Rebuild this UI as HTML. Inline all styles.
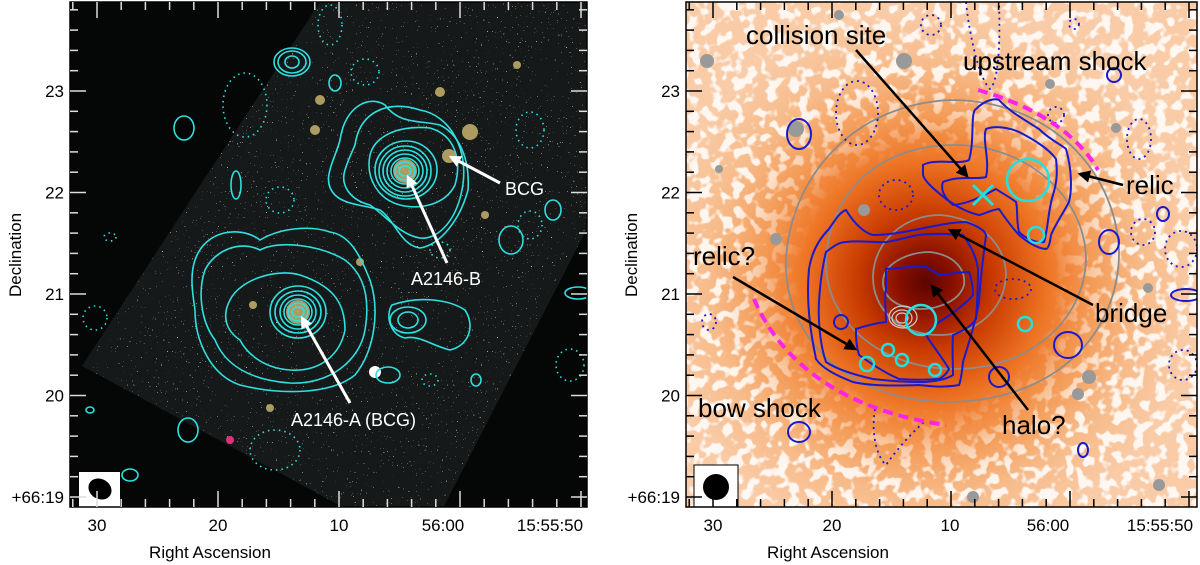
<!DOCTYPE html>
<html><head><meta charset="utf-8"><style>
html,body{margin:0;padding:0;background:#fff;width:1200px;height:565px;overflow:hidden}
svg{display:block;font-family:"Liberation Sans",sans-serif}
</style></head><body>
<svg width="1200" height="565" viewBox="0 0 1200 565">
<defs>
<filter id="mott" x="0" y="0" width="100%" height="100%">
<feTurbulence type="fractalNoise" baseFrequency="0.09" numOctaves="2" seed="4"/>
<feColorMatrix type="matrix" values="0 0 0 0 1  0 0 0 0 1  0 0 0 0 1  -9 0 0 0 4.5"/>
</filter>
<filter id="stars" x="0" y="0" width="100%" height="100%">
<feTurbulence type="fractalNoise" baseFrequency="0.8" numOctaves="1" seed="7" result="n"/>
<feColorMatrix in="n" type="matrix" values="0 0 0 0 0.9  0 0 0 0 0.75  0 0 0 0 0.45  40 0 0 0 -29" result="s"/>
<feComposite in="s" in2="SourceGraphic" operator="in"/>
</filter>
<radialGradient id="xg" cx="926" cy="282" r="270" gradientUnits="userSpaceOnUse">
<stop offset="0" stop-color="#5a0500"/>
<stop offset="0.1" stop-color="#880f00"/>
<stop offset="0.25" stop-color="#c83a00"/>
<stop offset="0.45" stop-color="#ee7424"/>
<stop offset="0.62" stop-color="#f49c58"/>
<stop offset="0.8" stop-color="#f7bb8a"/>
<stop offset="1" stop-color="#f9cba6"/>
</radialGradient>
<radialGradient id="mg" cx="926" cy="282" r="300" gradientUnits="userSpaceOnUse">
<stop offset="0.42" stop-color="#000"/>
<stop offset="0.68" stop-color="#fff"/>
</radialGradient>
<mask id="mm"><rect x="686" y="2" width="511" height="505" fill="url(#mg)"/></mask>
<clipPath id="cl"><rect x="70" y="2" width="517" height="505"/></clipPath>
<clipPath id="cr"><rect x="686" y="2" width="511" height="505"/></clipPath>
<marker id="ah" viewBox="0 0 10 10" refX="8" refY="5" markerWidth="5" markerHeight="5" orient="auto"><path d="M0,0L10,5L0,10z" fill="#000"/></marker>
<marker id="aw" viewBox="0 0 10 10" refX="8" refY="5" markerWidth="4" markerHeight="4" orient="auto"><path d="M0,0L10,5L0,10z" fill="#fff"/></marker>
</defs>

<!-- LEFT PANEL -->
<g clip-path="url(#cl)">
<rect x="70" y="2" width="517" height="505" fill="#050707"/>
<polygon points="82,366 320,2 590,2 590,223 442,510 348,510" fill="#15191a"/>
<polygon points="82,366 320,2 590,2 590,223 442,510 348,510" fill="#fff" filter="url(#stars)"/>
<g fill="#e0c878" opacity="0.75">
<circle cx="405" cy="171" r="12"/><circle cx="449" cy="156" r="7"/><circle cx="298" cy="312" r="12"/>
<circle cx="470" cy="132" r="8"/><circle cx="320" cy="100" r="5"/><circle cx="315" cy="130" r="5"/><circle cx="440" cy="92" r="5"/><circle cx="517" cy="65" r="4"/><circle cx="253" cy="305" r="4"/><circle cx="270" cy="408" r="4"/><circle cx="360" cy="262" r="4"/><circle cx="485" cy="215" r="4"/>
</g>
<circle cx="375" cy="372" r="6" fill="#fff"/>
<circle cx="230" cy="440" r="4" fill="#e0307a"/>
<g fill="none" stroke="#2fe0e0" stroke-width="1.6">
<ellipse cx="405" cy="171" rx="6" ry="5"/><ellipse cx="405" cy="171" rx="10" ry="9"/><ellipse cx="405" cy="171" rx="14" ry="13"/><ellipse cx="405" cy="171" rx="18" ry="17"/><ellipse cx="405" cy="171" rx="22" ry="21"/><ellipse cx="405" cy="171" rx="26" ry="25"/><ellipse cx="406" cy="170" rx="31" ry="29"/>
<path d="M370,155 C375,135 400,125 430,128 C455,135 462,160 455,185 C445,205 420,210 400,205 C380,200 365,180 370,155Z"/>
<path d="M355,145 C360,110 390,100 420,110 C450,115 470,150 462,190 C455,225 435,240 420,238 C400,235 385,215 370,205 C350,200 340,185 345,170 C348,160 352,152 355,145Z"/>
<path d="M340,140 C345,105 370,95 385,105 C400,125 420,120 440,125 C460,135 470,160 468,190 C460,220 440,245 420,248 C400,245 395,220 380,210 C365,205 345,205 335,195 C320,180 335,160 340,140Z"/>
<ellipse cx="298" cy="312" rx="6" ry="5"/><ellipse cx="298" cy="312" rx="10" ry="9"/><ellipse cx="298" cy="312" rx="14" ry="13"/><ellipse cx="298" cy="312" rx="18" ry="17"/><ellipse cx="298" cy="312" rx="23" ry="21"/><ellipse cx="298" cy="312" rx="28" ry="26"/>
<path d="M230,300 C240,280 275,268 300,275 C330,285 345,300 345,330 C340,355 320,372 290,370 C260,368 245,350 240,340 C225,330 222,315 230,300Z"/>
<path d="M205,270 C215,250 240,240 260,250 C280,240 320,245 345,260 C365,275 370,300 365,330 C360,360 330,385 290,383 C250,380 225,365 215,340 C200,320 198,290 205,270Z"/>
<path d="M195,260 C205,230 240,225 260,240 C280,228 310,225 330,232 C350,235 360,255 370,280 C380,310 375,350 355,375 C330,395 280,395 240,385 C210,375 195,340 195,310 C192,290 190,275 195,260Z"/>
<ellipse cx="408" cy="320" rx="10" ry="8"/><ellipse cx="408" cy="320" rx="18" ry="13"/>
<path d="M392,305 C420,295 450,300 465,310 C475,325 470,345 450,350 C430,345 420,335 405,338 C390,335 385,315 392,305Z"/>
<ellipse cx="292" cy="62" rx="7" ry="6"/><ellipse cx="292" cy="62" rx="14" ry="11"/><ellipse cx="292" cy="62" rx="18" ry="14"/>
<ellipse cx="184" cy="128" rx="10" ry="12"/>
<ellipse cx="335" cy="83" rx="6" ry="8"/>
<ellipse cx="553" cy="210" rx="8" ry="10"/>
<ellipse cx="511" cy="240" rx="12" ry="14"/>
<ellipse cx="130" cy="475" rx="8" ry="6"/><ellipse cx="90" cy="410" rx="4" ry="3"/>
<ellipse cx="578" cy="293" rx="13" ry="6"/><ellipse cx="188" cy="430" rx="10" ry="12"/>
<ellipse cx="388" cy="375" rx="12" ry="8"/><ellipse cx="476" cy="380" rx="5" ry="6"/>
<ellipse cx="236" cy="185" rx="5" ry="14"/>
</g>
<g fill="none" stroke="#2fe0e0" stroke-width="1.6" stroke-dasharray="1.5,4">
<ellipse cx="245" cy="105" rx="22" ry="32"/><ellipse cx="280" cy="200" rx="14" ry="13"/><ellipse cx="365" cy="72" rx="14" ry="13"/><ellipse cx="530" cy="130" rx="14" ry="18"/><ellipse cx="275" cy="450" rx="25" ry="20"/><ellipse cx="440" cy="250" rx="10" ry="8"/><ellipse cx="530" cy="225" rx="12" ry="14"/><ellipse cx="95" cy="318" rx="12" ry="12"/><ellipse cx="110" cy="237" rx="6" ry="4"/><ellipse cx="570" cy="365" rx="14" ry="16"/><ellipse cx="430" cy="380" rx="8" ry="6"/><ellipse cx="330" cy="25" rx="12" ry="20"/>
</g>
</g>
<g stroke="#fff" stroke-width="3" fill="none">
<line x1="500" y1="183" x2="451" y2="157" marker-end="url(#aw)"/>
<line x1="447" y1="263" x2="408" y2="177" marker-end="url(#aw)"/>
<line x1="350" y1="403" x2="302" y2="318" marker-end="url(#aw)"/>
</g>
<g fill="#fff" font-size="18">
<text x="505" y="195">BCG</text>
<text x="411" y="285">A2146-B</text>
<text x="291" y="426">A2146-A (BCG)</text>
</g>
<g><rect x="79" y="472" width="41" height="36" fill="#fff"/><ellipse cx="100" cy="489" rx="12" ry="10" transform="rotate(30 100 489)" fill="#000"/></g>
<rect x="70" y="2" width="517" height="505" fill="none" stroke="#000" stroke-width="1.5"/>
<g id="ticksL" stroke="#ddd" stroke-width="1.5"></g>

<!-- RIGHT PANEL -->
<g clip-path="url(#cr)">
<rect x="686" y="2" width="511" height="505" fill="url(#xg)"/>
<g mask="url(#mm)"><rect x="686" y="2" width="511" height="505" fill="#fff" filter="url(#mott)" opacity="0.85"/></g>
<g fill="#999"><circle cx="707" cy="61" r="7"/><circle cx="904" cy="61" r="8"/><circle cx="796" cy="129" r="8"/><circle cx="839" cy="15" r="5"/><circle cx="1050" cy="84" r="5"/><circle cx="1116" cy="128" r="5"/><circle cx="864" cy="210" r="6"/><circle cx="776" cy="239" r="6"/><circle cx="1148" cy="288" r="5"/><circle cx="1089" cy="377" r="7"/><circle cx="1078" cy="394" r="6"/><circle cx="973" cy="497" r="6"/><circle cx="1159" cy="485" r="6"/><circle cx="719" cy="169" r="4"/></g>
<g fill="none" stroke="#8c8c8c" stroke-width="1.8">
<path d="M786,260 C790,180 850,105 950,100 C1050,100 1115,170 1119,250 C1120,330 1060,400 950,402 C850,402 784,340 786,260Z"/>
<path d="M826,260 C830,190 880,145 955,145 C1030,145 1086,200 1086,260 C1084,320 1030,369 955,369 C880,369 824,320 826,260Z"/>
<path d="M873,275 C875,240 905,215 940,215 C980,218 1006,245 1006,275 C1005,310 975,335 940,335 C900,335 872,310 873,275Z"/>
<path d="M883,280 C885,262 910,252 930,252 C955,255 966,270 964,285 C960,300 940,309 920,309 C895,308 882,296 883,280Z"/>
<g stroke="#ccc" stroke-width="1.2"><ellipse cx="902" cy="318" rx="10" ry="8"/><ellipse cx="902" cy="318" rx="6" ry="5"/><ellipse cx="903" cy="317" rx="14" ry="11"/></g>
</g>
<g fill="none" stroke="#1a1acc" stroke-width="2">
<path d="M923,165 C935,158 960,165 969,160 C975,140 970,112 976,109 C985,100 995,98 999,100 C1010,112 1025,120 1039,129 C1050,140 1062,145 1066,149 C1072,170 1072,190 1069,202 C1062,215 1055,225 1051,235 C1050,242 1049,248 1046,249 C1035,248 1025,240 1019,235 C1010,225 1003,215 999,209 C990,210 985,214 979,215 C965,212 955,205 946,199 C935,190 925,182 923,175Z"/>
<path d="M943,182 C960,175 975,180 986,177 C990,160 982,140 986,129 C995,125 1010,128 1019,132 C1035,140 1050,150 1056,159 C1058,175 1056,185 1053,195 C1048,210 1048,230 1044,242 C1035,243 1025,238 1019,232 C1016,220 1018,208 1016,202 C1008,196 1000,192 996,189 C985,195 968,204 953,205 C945,198 940,190 943,182Z"/>
<path d="M846,210 C855,225 865,233 873,235 C905,235 940,222 966,222 C975,225 985,230 986,235 C983,260 980,280 979,302 C975,325 968,345 963,362 C962,372 961,380 959,385 C940,388 930,386 919,385 C895,386 870,386 853,382 C835,375 822,368 816,359 C810,330 806,300 809,269 C812,250 820,238 829,229 C835,220 840,212 846,210Z"/>
<path d="M826,252 C835,245 840,242 846,242 C860,240 875,243 886,242 C900,240 910,236 919,235 C935,233 950,234 963,235 C970,245 976,255 978,269 C978,285 977,305 976,319 C970,328 960,332 953,335 C952,350 953,365 953,375 C945,380 935,381 926,382 C905,382 890,381 873,379 C855,375 838,370 826,362 C820,345 818,320 819,302 C820,285 822,268 826,252Z"/>
<path d="M886,269 C900,268 915,266 926,267 C932,270 936,273 939,275 C950,274 960,272 969,272 C972,280 973,288 973,295 C965,305 950,315 939,322 C932,328 928,332 926,335 C932,345 942,357 949,369 C947,373 943,377 939,379 C925,380 912,380 899,379 C885,373 870,363 859,355 C856,345 856,337 856,329 C865,326 876,323 886,322 C886,310 884,298 886,289 C886,280 886,274 886,269Z"/>
<ellipse cx="799" cy="134" rx="12" ry="15"/><ellipse cx="1114" cy="75" rx="7" ry="7"/><ellipse cx="1163" cy="214" rx="6" ry="7"/><ellipse cx="1109" cy="242" rx="10" ry="12"/><ellipse cx="1186" cy="295" rx="15" ry="6"/><ellipse cx="1068" cy="345" rx="14" ry="13"/><ellipse cx="999" cy="377" rx="10" ry="10"/><ellipse cx="799" cy="432" rx="11" ry="10"/><ellipse cx="1083" cy="450" rx="5" ry="7"/><ellipse cx="841" cy="322" rx="7" ry="7"/>
</g>
<g fill="none" stroke="#1a1acc" stroke-width="1.8" stroke-dasharray="2,4">
<ellipse cx="857" cy="113" rx="21" ry="32"/><path d="M966,2 C970,40 980,80 990,89 C1000,80 1000,30 999,2"/><ellipse cx="896" cy="195" rx="17" ry="15"/><ellipse cx="1013" cy="289" rx="18" ry="10"/><ellipse cx="1139" cy="139" rx="12" ry="20"/><ellipse cx="1143" cy="232" rx="12" ry="13"/><ellipse cx="1181" cy="249" rx="16" ry="18"/><ellipse cx="709" cy="322" rx="7" ry="8"/><ellipse cx="1183" cy="365" rx="14" ry="15"/><path d="M875,409 C870,440 880,460 886,465 C900,445 915,430 926,420"/><ellipse cx="931" cy="25" rx="10" ry="10"/><ellipse cx="1074" cy="24" rx="5" ry="5"/><ellipse cx="1056" cy="115" rx="8" ry="8"/>
</g>
<g fill="none" stroke="#ff22e8" stroke-width="4" stroke-dasharray="10,6">
<path d="M978,90 C1030,105 1075,130 1098,170"/>
<path d="M754,299 C780,360 840,410 946,425"/>
</g>
<g fill="none" stroke="#22e0e0" stroke-width="2.5">
<circle cx="1028" cy="180" r="21"/><circle cx="1036" cy="235" r="8"/><circle cx="921" cy="320" r="15"/><circle cx="1025" cy="324" r="7"/><circle cx="867" cy="364" r="7"/><circle cx="888" cy="350" r="6"/><circle cx="902" cy="360" r="6"/><circle cx="935" cy="370" r="6"/>
<path d="M973,185 L993,205 M993,185 L973,205" stroke-width="3"/>
</g>
</g>
<g stroke="#000" stroke-width="2.5" fill="none">
<line x1="856" y1="50" x2="967" y2="176" marker-end="url(#ah)"/>
<line x1="1123" y1="185" x2="1080" y2="174" marker-end="url(#ah)"/>
<line x1="733" y1="277" x2="855" y2="349" marker-end="url(#ah)"/>
<line x1="1093" y1="305" x2="950" y2="230" marker-end="url(#ah)"/>
<line x1="1028" y1="410" x2="932" y2="286" marker-end="url(#ah)"/>
</g>
<g font-size="26" fill="#000">
<text x="746" y="44">collision site</text>
<text x="963" y="70">upstream shock</text>
<text x="1126" y="194">relic</text>
<text x="693" y="265">relic?</text>
<text x="1095" y="322">bridge</text>
<text x="698" y="417">bow shock</text>
<text x="1002" y="434">halo?</text>
</g>
<g><rect x="694" y="465" width="44" height="42" fill="#fff" stroke="#000" stroke-width="1"/><circle cx="716" cy="487" r="13" fill="#000"/></g>
<rect x="686" y="2" width="511" height="505" fill="none" stroke="#000" stroke-width="1.5"/>
<g id="ticksR" stroke="#000" stroke-width="1.5"></g>

<g id="labels" font-size="17" fill="#000"></g>
<text x="210" y="558" font-size="17" text-anchor="middle">Right Ascension</text>
<text x="828" y="558" font-size="17" text-anchor="middle">Right Ascension</text>
<text transform="translate(21,255) rotate(-90)" font-size="17" text-anchor="middle">Declination</text>
<text transform="translate(637,255) rotate(-90)" font-size="17" text-anchor="middle">Declination</text>
</svg>
<script>
const decTicks=["23","22","21","20","+66:19"];
const raTicks=["30","20","10","56:00","15:55:50"];
const ns="http://www.w3.org/2000/svg";
function mk(tag,attrs,parent){const e=document.createElementNS(ns,tag);for(const k in attrs)e.setAttribute(k,attrs[k]);parent.appendChild(e);return e;}
const lab=document.getElementById('labels');
const panels=[{x0:70,x1:587,g:'ticksL',raX:[97,218,339,443,550]},{x0:686,x1:1197,g:'ticksR',raX:[713,832,950,1048,1160]}];
const decY=i=>91+i*101.5;
panels.forEach((p,pi)=>{
  const g=document.getElementById(p.g);
  for(let k=-4;k<=20;k++){const y=decY(0)+k*101.5/5; if(y<4||y>505)continue;
    const L=(k%5===0)?16:8;
    const t=mk('line',{x1:p.x0,x2:p.x0+L,y1:y,y2:y},g);
    
    
    const t2=mk('line',{x1:p.x1,x2:p.x1-L,y1:y,y2:y},g);
    
    }
  decTicks.forEach((s,i)=>{const t=mk('text',{x:p.x0-6,y:decY(i)+6,'text-anchor':'end'},lab);t.textContent=s;
    
    });
  const sp=(p.raX[1]-p.raX[0])/5;
  for(let k=-2;k<=24;k++){const x=p.raX[0]+k*sp;if(x<p.x0+2||x>p.x1-2)continue;
    const L=(k%5===0)?16:8;
    const t=mk('line',{x1:x,x2:x,y1:507,y2:507-L},g);
    
    
    const t2=mk('line',{x1:x,x2:x,y1:2,y2:2+L},g);
    
    }
  raTicks.forEach((s,i)=>{const t=mk('text',{x:p.raX[i],y:531,'text-anchor':'middle'},lab);t.textContent=s;
    
    });
});
</script>
</body></html>
